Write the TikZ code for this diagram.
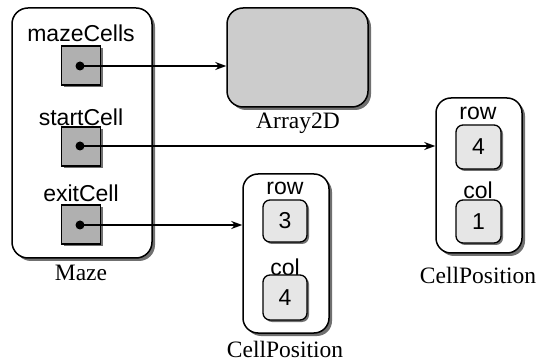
\documentclass[tikz,border=0pt]{standalone}
\usepackage{fontspec}
\setmainfont{Liberation Serif}
\setsansfont{Liberation Sans}
\usetikzlibrary{arrows.meta,shadows}
\definecolor{varfill}{HTML}{B0B0B0}
\definecolor{arrfill}{HTML}{CCCCCC}
\definecolor{cellfill}{HTML}{E6E6E6}
\definecolor{shadowc}{HTML}{707070}
\tikzset{
  objbox/.style={draw=black, line width=1.5pt, rounded corners=16pt, fill=white,
    drop shadow={shadow xshift=3pt, shadow yshift=-3pt, fill=shadowc, opacity=1}},
  varbox/.style={draw=black, line width=1.1pt, fill=varfill, minimum width=39pt, minimum height=39pt, inner sep=0pt,
    drop shadow={shadow xshift=2pt, shadow yshift=-2pt, fill=shadowc, opacity=1}},
  cellbox/.style={draw=black, line width=1.3pt, rounded corners=7pt, fill=cellfill, inner sep=0pt,
    font=\sffamily\fontsize{23}{25}\selectfont,
    drop shadow={shadow xshift=2pt, shadow yshift=-2pt, fill=shadowc, opacity=1}},
  sflabel/.style={font=\sffamily\fontsize{23}{25}\selectfont, inner sep=0pt},
  rmlabel/.style={font=\rmfamily\fontsize{23.5}{26}\selectfont, inner sep=0pt},
  ptr/.style={line width=1.3pt, -{Stealth[length=11pt,width=8pt]}},
  dotc/.style={circle, fill=black, inner sep=0pt, minimum size=9pt}
}
\begin{document}
\begin{tikzpicture}[x=1pt,y=-1pt]
\useasboundingbox (0,0) rectangle (538,363);
% Maze
\node[objbox, minimum width=140pt, minimum height=250pt] (maze) at (82,133) {};
\node[rmlabel] (mazelbl) at (81,273) {Maze};
\node[sflabel] (l1) at (81,33) {mazeCells};
\node[sflabel] (l2) at (81,117) {startCell};
\node[sflabel] (l3) at (81,193) {exitCell};
\node[varbox] (v1) at (81,65.5) {};
\node[varbox] (v2) at (81,146.5) {};
\node[varbox] (v3) at (81,224.5) {};
\node[dotc] (d1) at (80,66) {};
\node[dotc] (d2) at (80,146) {};
\node[dotc] (d3) at (80,225) {};
% Array2D
\node[objbox, fill=arrfill, minimum width=141pt, minimum height=99pt] (arr) at (297.5,57.5) {};
\node[rmlabel] (arrlbl) at (298,123) {Array2D};
% CellPosition (exit)
\node[objbox, minimum width=86pt, minimum height=159pt, rounded corners=15pt] (cpa) at (286,253.5) {};
\node[sflabel] (cpar) at (285,188) {row};
\node[cellbox, minimum width=44pt, minimum height=42pt] (cparv) at (285,221) {3};
\node[sflabel] (cpac) at (285,267) {col};
\node[cellbox, minimum width=44pt, minimum height=45pt] (cpacv) at (285,297.5) {4};
\node[rmlabel] (cpalbl) at (285,349) {CellPosition};
% CellPosition (start)
\node[objbox, minimum width=86pt, minimum height=155pt, rounded corners=15pt] (cpb) at (479,175.5) {};
\node[sflabel] (cpbr) at (478,113) {row};
\node[cellbox, minimum width=45pt, minimum height=44pt] (cpbrv) at (478.5,147) {4};
\node[sflabel] (cpbc) at (478,190) {col};
\node[cellbox, minimum width=45pt, minimum height=43pt] (cpbcv) at (478.5,221.5) {1};
\node[rmlabel] (cpblbl) at (478,275) {CellPosition};
% pointers
\draw[ptr] (d1.center) -- (d1.center -| arr.west);
\draw[ptr] (d2.center) -- (d2.center -| cpb.west);
\draw[ptr] (d3.center) -- (d3.center -| cpa.west);
\end{tikzpicture}
\end{document}
